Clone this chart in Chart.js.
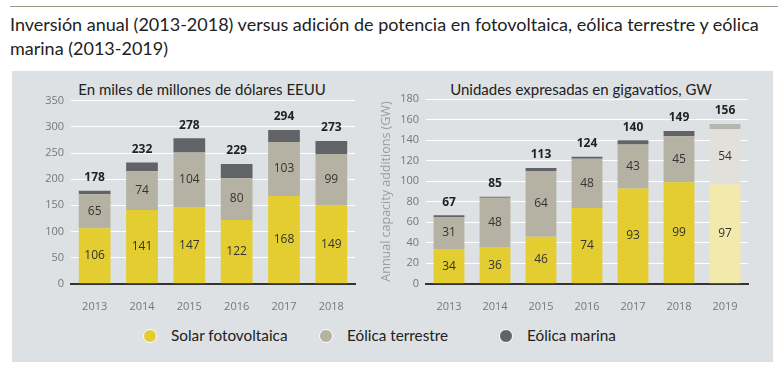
<!DOCTYPE html>
<html>
<head>
<meta charset="utf-8">
<script src="https://cdn.jsdelivr.net/npm/chart.js@4"></script>
<style>
  body { margin:0; background:#fff; width:778px; height:372px; position:relative; overflow:hidden; font-family:Lato, sans-serif; }
  #topline { position:absolute; left:10px; right:0; top:6px; height:1px; background:#8f9c86; }
  #title { position:absolute; left:10px; top:12px; font-size:18px; line-height:24px; color:#222; }
  #panel { position:absolute; left:12px; top:71px; width:761px; height:291px; background:#dde1e3; }
  .sub { position:absolute; top:80px; font-size:15px; color:#222; white-space:nowrap; transform:translateX(-50%); }
  canvas { position:absolute; }
  #legend { position:absolute; top:326px; left:0; font-size:15.3px; color:#222; }
  .item { position:absolute; white-space:nowrap; line-height:18px; }
  .dot { position:absolute; width:12px; height:12px; border-radius:50%; border:1px solid #fff; top:3px; left:-28px; }
</style>
</head>
<body>
<div id="topline"></div>
<div id="title">Inversión anual (2013-2018) versus adición de potencia en fotovoltaica, eólica terrestre y eólica<br>marina (2013-2019)</div>
<div id="panel"></div>
<div class="sub" style="left:202px">En miles de millones de dólares EEUU</div>
<div class="sub" style="left:581px">Unidades expresadas en gigavatios, GW</div>
<div style="position:absolute;left:12px;top:71px;width:360px;height:250px"><canvas id="left"></canvas></div>
<div style="position:absolute;left:372px;top:71px;width:400px;height:250px"><canvas id="right"></canvas></div>
<div id="legend"></div>
<script>
// inversion (miles de millones USD)
var invYears = ['2013', '2014', '2015', '2016', '2017', '2018']
var invSolar = [106, 141, 147, 122, 168, 149]
var invOnshore = [65, 74, 104, 80, 103, 99]
var invOffshore = [7, 17, 27, 27, 23, 25]
var invTotal = [178, 232, 278, 229, 294, 273]
var invTicks = [0, 50, 100, 150, 200, 250, 300, 350]

// potencia (GW)
var capYears = ['2013', '2014', '2015', '2016', '2017', '2018', '2019']
var capSolar = [34, 36, 46, 74, 93, 99, 97]
var capOnshore = [31, 48, 64, 48, 43, 45, 54]
var capOffshore = [2, 1, 3, 2, 4, 5, 5]
var capTotal = [67, 85, 113, 124, 140, 149, 156]
var capTicks = [0, 20, 40, 60, 80, 100, 120, 140, 160, 180]

var seriesNames = ['Solar fotovoltaica', 'Eólica terrestre', 'Eólica marina']
var colors = ['#e3cd30', '#b5b2a3', '#626367']
var lightColors = ['#f3e9aa', '#e2e0da', '#b6b5b0']

var tickFont = { family: 'Open Sans', size: 11 }

// etiquetas de valor y totales
var labelsPlugin = {
  id: 'labels',
  afterDatasetsDraw: function(chart, args, opts) {
    var c = chart.ctx
    c.save()
    c.textAlign = 'center'
    c.textBaseline = 'middle'
    c.font = '12px "Open Sans"'
    c.fillStyle = '#333'
    for (var d = 0; d < 2; d++) {
      chart.getDatasetMeta(d).data.forEach(function(bar, i) {
        var v = chart.data.datasets[d].data[i]
        c.fillText(v, bar.x, (bar.y + bar.base) / 2)
      })
    }
    c.font = 'bold 12px "Open Sans"'
    c.fillStyle = '#222'
    var top = chart.getDatasetMeta(2).data
    opts.totals.forEach(function(t, i) {
      c.fillText(t, top[i].x, top[i].y - 13)
    })
    c.restore()
  }
}

function makeDatasets(years, series) {
  return series.map(function(vals, k) {
    return {
      label: seriesNames[k],
      data: vals,
      backgroundColor: years.map(function(y) { return y === '2019' ? lightColors[k] : colors[k] }),
      categoryPercentage: 1,
      barPercentage: 0.67
    }
  })
}

function makeChart(id, years, series, totals, ticks, max, yWidth, pad, yTitle) {
  return new Chart(document.getElementById(id), {
    type: 'bar',
    data: { labels: years, datasets: makeDatasets(years, series) },
    plugins: [labelsPlugin],
    options: {
      responsive: true,
      maintainAspectRatio: false,
      animation: false,
      layout: { padding: pad },
      plugins: {
        legend: { display: false },
        tooltip: { enabled: false },
        labels: { totals: totals }
      },
      scales: {
        x: {
          stacked: true,
          grid: { display: false },
          border: { color: '#333', width: 2 },
          ticks: { color: '#777', font: tickFont, padding: 8 }
        },
        y: {
          stacked: true,
          min: 0,
          max: max,
          afterBuildTicks: function(s) { s.ticks = ticks.map(function(v) { return { value: v } }) },
          afterFit: function(s) { s.width = yWidth },
          grid: { color: '#fff', lineWidth: 1, drawTicks: false },
          border: { display: false },
          ticks: { color: '#777', font: tickFont, padding: 7 },
          title: yTitle
        }
      }
    }
  })
}

makeChart('left', invYears, [invSolar, invOnshore, invOffshore], invTotal, invTicks, 350, 59,
  { left: 0, right: 17, top: 29.7, bottom: 0 }, { display: false })
makeChart('right', capYears, [capSolar, capOnshore, capOffshore], capTotal, capTicks, 180, 54,
  { left: 0, right: 24, top: 28.3, bottom: 0 },
  { display: true, text: 'Annual capacity additions (GW)', color: '#9c9c9c', font: { family: 'Open Sans', size: 12.5 }, padding: { top: 7, bottom: 0 } })

// leyenda
var legendX = [171, 347, 527]
var lg = document.getElementById('legend')
seriesNames.forEach(function(n, k) {
  var it = document.createElement('div')
  it.className = 'item'
  it.style.left = legendX[k] + 'px'
  it.innerHTML = '<span class="dot" style="background:' + colors[k] + '"></span><span>' + n + '</span>'
  lg.appendChild(it)
})
</script>
</body>
</html>
